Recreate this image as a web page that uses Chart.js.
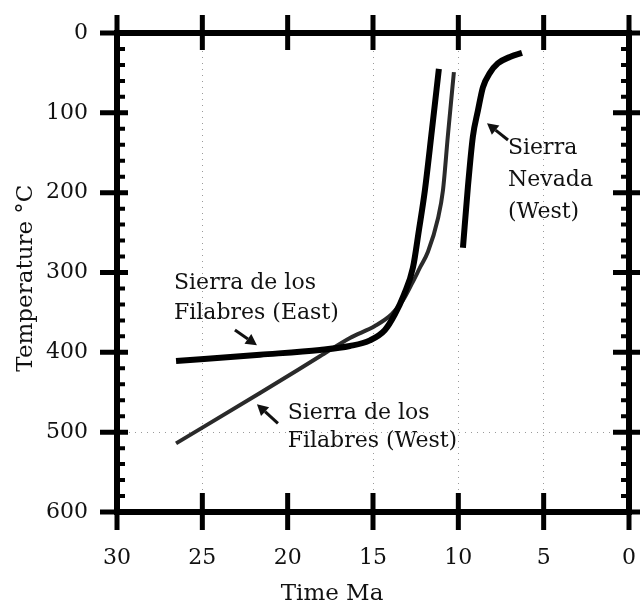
<!DOCTYPE html>
<html>
<head>
<meta charset="utf-8">
<script src="https://cdn.jsdelivr.net/npm/chart.js@4/dist/chart.umd.min.js"></script>
<style>
html,body{margin:0;padding:0;background:#fff;}
#wrap{width:640px;height:604px;position:relative;}
</style>
</head>
<body>
<div id="wrap"><canvas id="c"></canvas></div>
<script>
// ---- data ----
const xTickValues = [30, 25, 20, 15, 10, 5, 0];
const yTickValues = [0, 100, 200, 300, 400, 500, 600];
const yMinorValues = [20, 40, 60, 80, 120, 140, 160, 180, 220, 240, 260, 280, 320, 340, 360, 380, 420, 440, 460, 480, 520, 540, 560, 580];
const xGridValues = [25, 15, 10, 5];
const yGridValues = [500];

const eastAge  = [26.54, 21.62, 18.11, 16.35, 15.18, 14.30, 13.71, 13.19, 12.66, 12.31, 11.96, 11.55, 11.14];
const eastTemp = [411, 403, 397, 392, 385, 372, 352, 328, 294, 247, 197, 122, 45];

const westAge  = [26.54, 21.62, 18.11, 16.35, 14.89, 13.89, 13.25, 12.72, 12.25, 11.78, 11.19, 10.90, 10.61, 10.26];
const westTemp = [514, 451, 405, 382, 367, 352, 335, 314, 294, 274, 232, 197, 128, 49];

const nevadaAge  = [9.73, 9.44, 9.15, 8.85, 8.56, 8.15, 7.68, 6.98, 6.27];
const nevadaTemp = [269, 193, 130, 97, 68, 50, 38, 30, 25];

const seriesNames = ['Sierra de los Filabres (East)', 'Sierra de los Filabres (West)', 'Sierra Nevada (West)'];
const xTitle = 'Time Ma';
const yTitle = 'Temperature °C';

// annotation labels (data coordinates: age, temperature)
const labelEast   = { lines: ['Sierra de los', 'Filabres (East)'], age: 26.66, temps: [313, 351] };
const labelWest   = { lines: ['Sierra de los', 'Filabres (West)'], age: 20.0, temps: [476, 512] };
const labelNevada = { lines: ['Sierra', 'Nevada', '(West)'], age: 7.09, temps: [144, 184, 224] };
const arrowEast   = { from: [23.09, 372], to: [21.8, 391] };
const arrowWest   = { from: [20.57, 489], to: [21.8, 465] };
const arrowNevada = { from: [7.09, 134], to: [8.32, 113] };
// axis-title anchors (x title centred at this age, y title centred at this temperature)
const xTitleAge = 17.4;
const yTitleTemp = 307;

function pts(ages, temps) { return ages.map((a, i) => ({ x: a, y: temps[i] })); }

const SERIF = '"DejaVu Serif", "Liberation Serif", serif';

function fixBox(size, horizontal) {
  return s => {
    if (horizontal) s.height = size; else s.width = size;
    s.paddingLeft = 0; s.paddingRight = 0; s.paddingTop = 0; s.paddingBottom = 0;
  };
}

const framePlugin = {
  id: 'frame',
  afterDatasetsDraw(chart) {
    const { ctx, chartArea: a, scales: { x, y } } = chart;
    ctx.save();
    ctx.strokeStyle = '#000';
    ctx.fillStyle = '#000';
    ctx.lineCap = 'butt';
    // frame
    ctx.lineWidth = 6;
    ctx.strokeRect(a.left, a.top, a.right - a.left, a.bottom - a.top);
    // major x ticks (top & bottom), crossing the axis
    ctx.lineWidth = 5;
    xTickValues.forEach(v => {
      const px = x.getPixelForValue(v);
      ctx.beginPath();
      ctx.moveTo(px, a.top - 18); ctx.lineTo(px, a.top + 17);
      ctx.moveTo(px, a.bottom - 19); ctx.lineTo(px, a.bottom + 18);
      ctx.stroke();
    });
    // major y ticks (left & right)
    yTickValues.forEach(v => {
      const py = y.getPixelForValue(v);
      ctx.beginPath();
      ctx.moveTo(a.left - 17, py); ctx.lineTo(a.left + 11, py);
      ctx.moveTo(a.right - 16, py); ctx.lineTo(a.right + 12, py);
      ctx.stroke();
    });
    // minor y ticks, inside
    ctx.lineWidth = 4;
    yMinorValues.forEach(v => {
      const py = y.getPixelForValue(v);
      ctx.beginPath();
      ctx.moveTo(a.left, py); ctx.lineTo(a.left + 8, py);
      ctx.moveTo(a.right - 8, py); ctx.lineTo(a.right, py);
      ctx.stroke();
    });

    // text labels
    ctx.font = '22px ' + SERIF;
    ctx.fillStyle = '#111';
    ctx.textAlign = 'left';
    ctx.textBaseline = 'middle';
    [labelEast, labelWest, labelNevada].forEach(L => {
      const px = x.getPixelForValue(L.age);
      L.lines.forEach((t, i) => ctx.fillText(t, px, y.getPixelForValue(L.temps[i])));
    });

    // axis titles
    ctx.font = '23px ' + SERIF;
    ctx.textAlign = 'center';
    ctx.fillText(xTitle, x.getPixelForValue(xTitleAge), a.bottom + 82);
    ctx.save();
    ctx.translate(a.left - 91, y.getPixelForValue(yTitleTemp));
    ctx.rotate(-Math.PI / 2);
    ctx.fillText(yTitle, 0, 0);
    ctx.restore();

    // arrows
    function arrow(A) {
      const x1 = x.getPixelForValue(A.from[0]), y1 = y.getPixelForValue(A.from[1]);
      const x2 = x.getPixelForValue(A.to[0]), y2 = y.getPixelForValue(A.to[1]);
      const ang = Math.atan2(y2 - y1, x2 - x1);
      const hl = 11, hw = 6;
      const bx = x2 - hl * Math.cos(ang), by = y2 - hl * Math.sin(ang);
      ctx.strokeStyle = '#111';
      ctx.lineWidth = 3;
      ctx.beginPath();
      ctx.moveTo(x1, y1); ctx.lineTo(bx, by);
      ctx.stroke();
      ctx.beginPath();
      ctx.moveTo(x2, y2);
      ctx.lineTo(bx + hw * Math.sin(ang), by - hw * Math.cos(ang));
      ctx.lineTo(bx - hw * Math.sin(ang), by + hw * Math.cos(ang));
      ctx.closePath();
      ctx.fillStyle = '#111';
      ctx.fill();
    }
    arrow(arrowEast); arrow(arrowWest); arrow(arrowNevada);
    ctx.restore();
  }
};

new Chart(document.getElementById('c'), {
  type: 'line',
  data: {
    datasets: [
      { label: seriesNames[0], data: pts(eastAge, eastTemp), borderColor: '#000', borderWidth: 6, pointRadius: 0, cubicInterpolationMode: 'monotone', fill: false },
      { label: seriesNames[1], data: pts(westAge, westTemp), borderColor: '#2a2a2a', borderWidth: 4, pointRadius: 0, cubicInterpolationMode: 'monotone', fill: false },
      { label: seriesNames[2], data: pts(nevadaAge, nevadaTemp), borderColor: '#000', borderWidth: 6, pointRadius: 0, cubicInterpolationMode: 'monotone', fill: false }
    ]
  },
  options: {
    responsive: true,
    maintainAspectRatio: false,
    animation: false,
    layout: { padding: 0 },
    plugins: { legend: { display: false }, tooltip: { enabled: false } },
    scales: {
      x: {
        type: 'linear', position: 'bottom', reverse: true, min: 0, max: 30,
        afterBuildTicks: s => { s.ticks = xTickValues.map(v => ({ value: v })); },
        afterFit: fixBox(92, true),
        ticks: { autoSkip: false, maxRotation: 0, padding: 33, color: '#111', font: { family: SERIF, size: 22 } },
        grid: {
          drawTicks: false,
          lineWidth: 1,
          color: c => (c.tick && xGridValues.includes(c.tick.value)) ? '#9a9a9a' : 'rgba(0,0,0,0)'
        },
        border: { display: false, dash: [1, 5] },
        title: { display: false }
      },
      x2: {
        type: 'linear', position: 'top', reverse: true, min: 0, max: 30,
        afterFit: fixBox(33, true),
        ticks: { display: false },
        grid: { display: false, drawTicks: false },
        border: { display: false }
      },
      y: {
        type: 'linear', position: 'left', reverse: true, min: 0, max: 600,
        afterBuildTicks: s => { s.ticks = yTickValues.map(v => ({ value: v })); },
        afterFit: fixBox(117, false),
        ticks: { autoSkip: false, padding: 29, color: '#111', font: { family: SERIF, size: 22 } },
        grid: {
          drawTicks: false,
          lineWidth: 1,
          color: c => (c.tick && yGridValues.includes(c.tick.value)) ? '#9a9a9a' : 'rgba(0,0,0,0)'
        },
        border: { display: false, dash: [1, 5] },
        title: { display: false }
      },
      y2: {
        type: 'linear', position: 'right', reverse: true, min: 0, max: 600,
        afterFit: fixBox(11, false),
        ticks: { display: false },
        grid: { display: false, drawTicks: false },
        border: { display: false }
      }
    }
  },
  plugins: [framePlugin]
});
</script>
</body>
</html>
